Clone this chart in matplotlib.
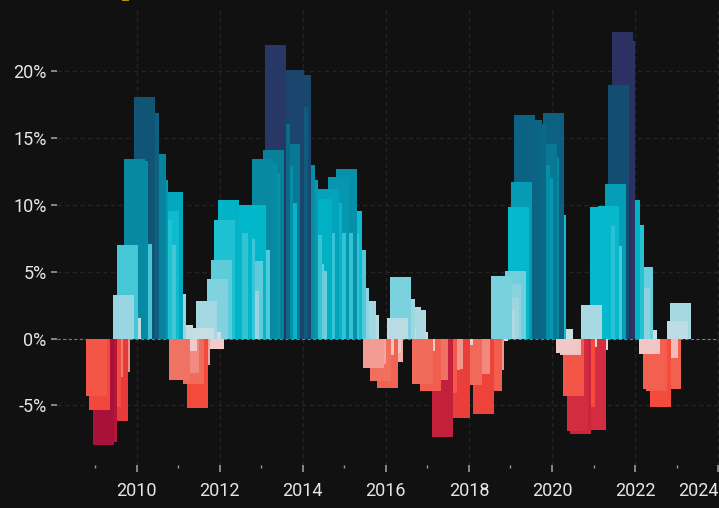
import matplotlib
matplotlib.use("Agg")
import matplotlib.pyplot as plt
from matplotlib.colors import LinearSegmentedColormap
from matplotlib.patches import Rectangle
import numpy as np

plt.rcParams['font.family'] = ['Roboto', 'DejaVu Sans']

# ---------------- data (period start as decimal year, return in %) ----------------
up_start = [
    2009.43, 2009.53, 2009.60, 2009.70, 2009.77, 2009.86, 2009.94, 2010.03, 2010.20, 2010.25,
    2010.34, 2010.44, 2010.51, 2010.61, 2010.68, 2010.85, 2011.35, 2011.43, 2011.52, 2011.69,
    2011.79, 2011.86, 2011.95, 2012.03, 2012.17, 2012.27, 2012.34, 2012.44, 2012.53, 2012.60,
    2012.70, 2012.77, 2012.87, 2012.94, 2013.04, 2013.08, 2013.18, 2013.25, 2013.35, 2013.44,
    2013.52, 2013.61, 2013.69, 2013.78, 2013.85, 2013.95, 2014.00, 2014.09, 2014.19, 2014.26,
    2014.36, 2014.43, 2014.53, 2014.60, 2014.70, 2014.79, 2014.86, 2014.91, 2015.01, 2015.10,
    2015.27, 2015.34, 2016.02, 2016.09, 2016.19, 2016.23, 2016.35, 2016.45, 2016.52, 2018.52,
    2018.61, 2018.71, 2018.76, 2018.88, 2018.93, 2019.02, 2019.09, 2019.26, 2019.36, 2019.45,
    2019.53, 2019.62, 2019.67, 2019.79, 2019.84, 2020.01, 2020.70, 2020.92, 2021.02, 2021.11,
    2021.19, 2021.28, 2021.35, 2021.45, 2021.50, 2021.62, 2021.71, 2021.86, 2021.93, 2022.03,
    2022.77, 2022.84,
]
up_return = [
    3.26, 7.0, 1.5, 13.45, 13.3, 7.05, 18.1, 16.9, 13.8, 11.9,
    8.9, 7.0, 9.55, 11.0, 3.3, 1.0, 0.8, 2.8, 0.5, 4.45,
    5.9, 8.9, 10.35, 10.0, 7.9, 10.0, 7.45, 3.55, 5.8, 10.0,
    6.6, 13.45, 13.1, 12.4, 14.1, 22.0, 16.05, 12.9, 10.15, 14.55,
    20.1, 17.3, 19.7, 13.0, 11.9, 7.75, 5.6, 5.05, 10.45, 7.9,
    11.2, 10.15, 7.9, 12.1, 7.9, 12.7, 7.8, 9.55, 6.6, 3.8,
    2.8, 1.75, 1.5, 4.6, 2.95, 0.9, 2.35, 2.1, 0.5, 4.7,
    2.15, 3.05, 4.1, 5.05, 9.85, 11.7, 16.75, 16.4, 16.1, 13.0,
    12.0, 14.6, 13.6, 16.9, 9.25, 0.7, 2.5, 9.85, 8.4, 9.9,
    6.95, 11.55, 19.0, 22.95, 22.3, 10.35, 8.5, 3.8, 5.35, 0.65,
    1.3, 2.65,
]

down_start = [
    2008.78, 2008.85, 2008.95, 2009.02, 2009.12, 2009.17, 2009.29, 2009.33,
    2010.78, 2010.95, 2010.99, 2011.11, 2011.21, 2011.26, 2011.59,
    2015.44, 2015.51, 2015.61, 2015.70, 2015.78, 2015.87, 2015.92,
    2016.62, 2016.69, 2016.83, 2017.00, 2017.10, 2017.20, 2017.27, 2017.36, 2017.53, 2017.60,
    2017.80, 2018.01, 2018.11, 2018.28, 2018.35, 2018.44,
    2020.10, 2020.20, 2020.27, 2020.37, 2020.44, 2020.54, 2020.58, 2020.80, 2020.85,
    2022.10, 2022.20, 2022.27, 2022.36, 2022.53, 2022.60,
]
down_return = [
    -4.3, -5.36, -7.98, -7.75, -5.1, -2.86, -6.15, -2.5,
    -3.1, -0.9, -2.6, -3.4, -5.2, -2.0, -0.8,
    -2.2, -1.9, -3.2, -1.25, -3.7, -1.1, -1.75,
    -3.4, -0.9, -3.9, -3.1, -7.4, -4.1, -2.35, -2.3, -5.95, -0.5,
    -3.45, -2.65, -5.65, -3.9, -2.35, -0.2,
    -1.1, -1.25, -4.3, -6.9, -7.15, -5.1, -0.6, -6.85, -0.85,
    -1.15, -3.8, -3.9, -5.1, -1.45, -3.8,
]

period_years = 0.505  # length of each return window (years)

y_ticks = [-5, 0, 5, 10, 15, 20]
x_major = [2010, 2012, 2014, 2016, 2018, 2020, 2022, 2024]
x_minor = [2009, 2011, 2013, 2015, 2017, 2019, 2021, 2023]

# ---------------- style ----------------
BG = '#111111'
pos_anchor = [(0.0, '#d2e3e7'), (1.0, '#c2dde3'), (2.5, '#a8d8e2'), (4.5, '#7fd2df'),
              (6.0, '#5bcbda'), (7.0, '#46c7d7'), (9.0, '#1cbfd2'), (10.0, '#02b7cb'),
              (11.0, '#03a6be'), (12.0, '#0697b1'), (13.5, '#0888a0'), (14.5, '#087a96'),
              (16.5, '#0a6584'), (18.0, '#0f5577'), (19.5, '#17496f'), (22.0, '#283866'),
              (23.5, '#2c3060')]
neg_anchor = [(0.0, '#f3d8d8'), (1.2, '#f1c6c4'), (2.0, '#f2a39b'), (2.6, '#f18b80'),
              (3.1, '#f07262'), (3.8, '#f26050'), (4.3, '#f35546'), (5.2, '#f44a3c'),
              (6.0, '#ea3d3a'), (6.9, '#d32b40'), (7.4, '#c3203c'), (8.0, '#aa1139')]


def make_cmap(anchors, name):
    vmax = anchors[-1][0]
    return LinearSegmentedColormap.from_list(name, [(v / vmax, c) for v, c in anchors]), vmax


pos_cmap, pos_max = make_cmap(pos_anchor, 'pos')
neg_cmap, neg_max = make_cmap(neg_anchor, 'neg')

fig = plt.figure(figsize=(7.19, 5.08), dpi=100, facecolor=BG)
ax = fig.add_axes([57 / 719, 43 / 508, 662 / 719, 455 / 508])
ax.set_facecolor(BG)


def draw(starts, values, cmap, vmax):
    order = np.argsort(starts)[::-1]  # earlier windows drawn last (on top)
    s = np.asarray(starts)[order]
    v = np.asarray(values)[order]
    cols = [cmap(min(abs(x) / vmax, 1.0)) for x in v]
    ax.bar(s, v, width=period_years, align='edge', color=cols, linewidth=0, zorder=3)


draw(up_start, up_return, pos_cmap, pos_max)
draw(down_start, down_return, neg_cmap, neg_max)

ax.set_xlim(2008.084, 2024.02)
ax.set_ylim(-9.47, 24.6)

# grid
for yv in y_ticks:
    if yv != 0:
        ax.axhline(yv, color='#252525', lw=1.0, ls=(0, (3, 2.5)), zorder=1)
for xv in x_major:
    ax.axvline(xv, color='#242424', lw=1.0, ls=(0, (3, 2.5)), zorder=1)
ax.axhline(0, color='#7a7a7a', lw=0.8, ls=(0, (3, 2)), zorder=2)

for sp in ax.spines.values():
    sp.set_visible(False)

ax.set_yticks(y_ticks)
ax.set_yticklabels([f'{t}%' for t in y_ticks])
ax.set_xticks(x_major)
ax.set_xticklabels([str(t) for t in x_major])
ax.set_xticks(x_minor, minor=True)
ax.tick_params(axis='y', colors='#9a9a9a', labelcolor='#e6e6e6', labelsize=13,
               length=4.5, width=1.2, pad=3)
ax.tick_params(axis='x', which='major', colors='#9a9a9a', labelcolor='#e6e6e6',
               labelsize=13, length=5, width=1.2, pad=7)
ax.tick_params(axis='x', which='minor', colors='#9a9a9a', length=2.5, width=1.0)
labs = ax.get_xticklabels()
labs[-1].set_horizontalalignment('right')

# partially visible marker at the top edge
fig.add_artist(Rectangle((122 / 719, 1 - 1.4 / 508), 7 / 719, 3 / 508,
                         transform=fig.transFigure, color='#c48a10', lw=0))

fig.savefig('out.png', dpi=100, facecolor=BG)
